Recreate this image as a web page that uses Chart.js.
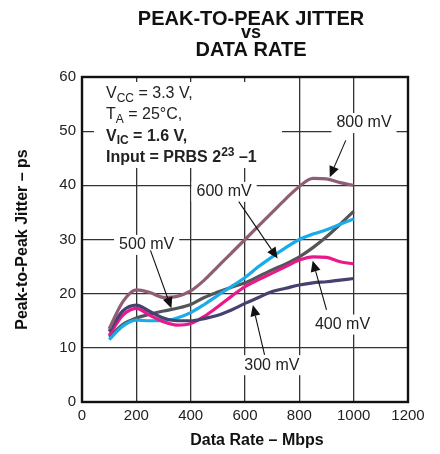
<!DOCTYPE html>
<html>
<head>
<meta charset="utf-8">
<script src="https://cdn.jsdelivr.net/npm/chart.js@4/dist/chart.umd.min.js"></script>
<style>
  body { margin: 0; background: #fff; }
  canvas { display: block; }
</style>
</head>
<body>
<canvas id="chart" width="440" height="454"></canvas>
<script>
const FONT = '"Liberation Sans", Arial, Helvetica, sans-serif';

// data rate (Mbps)
const dataRate = [100, 150, 200, 250, 300, 350, 400, 450, 500, 550, 600, 650, 700, 750, 800, 850, 900, 950, 1000];

// peak-to-peak jitter (ps) per input swing
const jitter800 = [13.5, 18.5, 20.7, 20.2, 19.3, 19.5, 20.5, 22.5, 25, 27.5, 30, 32.5, 35, 37.5, 39.8, 41.3, 41.2, 40.5, 40];
const jitter600 = [11.5, 14, 15.1, 15, 15, 15.5, 16.5, 18, 19.7, 21.3, 23, 25, 26.8, 28.5, 30, 31, 31.8, 32.8, 33.8];
const jitter500 = [12, 14.3, 15.5, 16.2, 16.8, 17.3, 18, 19.3, 20.3, 21.2, 22, 23.2, 24.4, 25.5, 26.8, 28.5, 30.5, 32.8, 35.2];
const jitter400 = [12.3, 16, 17.3, 16, 14.8, 14.2, 14.5, 15.8, 17.6, 19.5, 21.3, 22.6, 23.8, 25, 26.2, 26.8, 26.7, 25.9, 25.5];
const jitter300 = [13, 16.8, 17.9, 16.7, 15.5, 15, 15, 15.4, 16, 17, 18.2, 19.3, 20.4, 21, 21.6, 22, 22.2, 22.5, 22.8];

const xTicks = [0, 200, 400, 600, 800, 1000, 1200];
const yTicks = [0, 10, 20, 30, 40, 50, 60];

// callout labels: text spot and arrow (start -> tip), in data units
const callouts = [
  { text: '800 mV', at: [1038, 51.5], from: [971, 48.3], to: [912, 41.5] },
  { text: '600 mV', at: [523, 38.8], from: [577, 37], to: [720, 26.5] },
  { text: '500 mV', at: [238, 29], from: [252, 28], to: [329, 17.3] },
  { text: '400 mV', at: [959, 14.3], from: [900, 17], to: [849, 26.1] },
  { text: '300 mV', at: [699, 6.8], from: [672, 8.7], to: [629, 17.9] }
];

const conditions = [
  { bold: false, parts: [['V'], ['CC', 'sub'], [' = 3.3 V,']] },
  { bold: false, parts: [['T'], ['A', 'sub'], [' = 25°C,']] },
  { bold: true, parts: [['V'], ['IC', 'sub'], [' = 1.6 V,']] },
  { bold: true, parts: [['Input = PRBS 2'], ['23', 'sup'], [' –1']] }
];

function series(label, values, color) {
  return {
    label,
    data: values.map((v, i) => ({ x: dataRate[i], y: v })),
    borderColor: color,
    borderWidth: 3.2,
    pointRadius: 0,
    fill: false,
    cubicInterpolationMode: 'monotone'
  };
}

function arrow(ctx, x1, y1, x2, y2) {
  const a = Math.atan2(y2 - y1, x2 - x1);
  const len = 11, half = 5;
  const bx = x2 - len * Math.cos(a), by = y2 - len * Math.sin(a);
  ctx.strokeStyle = '#111';
  ctx.lineWidth = 1.1;
  ctx.beginPath();
  ctx.moveTo(x1, y1);
  ctx.lineTo(bx, by);
  ctx.stroke();
  ctx.fillStyle = '#111';
  ctx.beginPath();
  ctx.moveTo(x2, y2);
  ctx.lineTo(bx + half * Math.sin(a), by - half * Math.cos(a));
  ctx.lineTo(bx - half * Math.sin(a), by + half * Math.cos(a));
  ctx.closePath();
  ctx.fill();
}

const decorations = {
  id: 'decorations',
  beforeDatasetsDraw(chart) {
    const { ctx, chartArea: ca, scales: { x, y } } = chart;
    ctx.save();
    ctx.fillStyle = '#fff';
    // blank the grid behind the conditions text
    ctx.fillRect(ca.left + 12, ca.top + 5, 188, 86);
    // blank behind the callout labels
    ctx.font = '16px ' + FONT;
    callouts.forEach(c => {
      const w = ctx.measureText(c.text).width;
      const px = x.getPixelForValue(c.at[0]), py = y.getPixelForValue(c.at[1]);
      ctx.fillRect(px - w / 2 - 5, py - 10, w + 10, 20);
    });
    // frame round the plot
    ctx.strokeStyle = '#111';
    ctx.lineWidth = 2.4;
    ctx.strokeRect(ca.left, ca.top, ca.right - ca.left, ca.bottom - ca.top);
    ctx.restore();
  },
  afterDatasetsDraw(chart) {
    const { ctx, chartArea: ca, scales: { x, y } } = chart;
    ctx.save();
    ctx.fillStyle = '#222';
    ctx.textBaseline = 'alphabetic';
    conditions.forEach((line, i) => {
      let cx = ca.left + 24;
      const base = ca.top + 21 + i * 21.3;
      line.parts.forEach(([t, kind]) => {
        const size = kind ? 12 : 16;
        ctx.font = (line.bold ? 'bold ' : '') + size + 'px ' + FONT;
        const dy = kind === 'sub' ? 3.5 : kind === 'sup' ? -6 : 0;
        ctx.fillText(t, cx, base + dy);
        cx += ctx.measureText(t).width;
      });
    });

    ctx.font = '16px ' + FONT;
    ctx.textAlign = 'center';
    ctx.textBaseline = 'middle';
    callouts.forEach(c => {
      ctx.fillStyle = '#222';
      ctx.fillText(c.text, x.getPixelForValue(c.at[0]), y.getPixelForValue(c.at[1]));
      arrow(ctx,
        x.getPixelForValue(c.from[0]), y.getPixelForValue(c.from[1]),
        x.getPixelForValue(c.to[0]), y.getPixelForValue(c.to[1]));
    });
    ctx.restore();
  },
  afterDraw(chart) {
    const { ctx, chartArea: ca } = chart;
    const mid = (ca.left + ca.right) / 2;
    ctx.save();
    ctx.fillStyle = '#111';
    ctx.textAlign = 'center';
    ctx.textBaseline = 'alphabetic';
    ctx.font = 'bold 20px ' + FONT;
    ctx.fillText('PEAK-TO-PEAK JITTER', mid + 6, 25);
    ctx.font = 'bold 18px ' + FONT;
    ctx.fillText('vs', mid + 6, 38);
    ctx.font = 'bold 20px ' + FONT;
    ctx.fillText('DATA RATE', mid + 6, 56);
    ctx.font = 'bold 16px ' + FONT;
    ctx.textBaseline = 'middle';
    ctx.fillText('Data Rate – Mbps', mid + 12, 441);
    ctx.restore();
  }
};

new Chart(document.getElementById('chart'), {
  type: 'line',
  data: {
    datasets: [
      series('800 mV', jitter800, '#8f5e75'),
      series('300 mV', jitter300, '#45426f'),
      series('400 mV', jitter400, '#e8198b'),
      series('600 mV', jitter600, '#19ace8'),
      series('500 mV', jitter500, '#555559')
    ]
  },
  options: {
    responsive: false,
    animation: false,
    layout: { padding: { top: 77, right: 32, left: 0, bottom: 0 } },
    plugins: { legend: { display: false }, tooltip: { enabled: false } },
    scales: {
      x: {
        type: 'linear',
        min: 0,
        max: 1200,
        afterBuildTicks: axis => { axis.ticks = xTicks.map(v => ({ value: v })); },
        afterFit: axis => { axis.height = 52; },
        ticks: { callback: v => String(v), color: '#222', padding: 5, font: { family: FONT, size: 15 } },
        grid: { color: '#333', lineWidth: 1.3, drawTicks: false },
        border: { display: false }
      },
      y: {
        min: 0,
        max: 60,
        afterBuildTicks: axis => { axis.ticks = yTicks.map(v => ({ value: v })); },
        afterFit: axis => { axis.width = 82; },
        ticks: { callback: v => String(v), color: '#222', padding: 6, font: { family: FONT, size: 15 } },
        grid: { color: '#333', lineWidth: 1.3, drawTicks: false },
        border: { display: false },
        title: {
          display: true,
          text: 'Peak-to-Peak Jitter – ps',
          color: '#111',
          padding: { top: 13, bottom: 0 },
          font: { family: FONT, size: 16, weight: 'bold' }
        }
      }
    }
  },
  plugins: [decorations]
});
</script>
</body>
</html>
